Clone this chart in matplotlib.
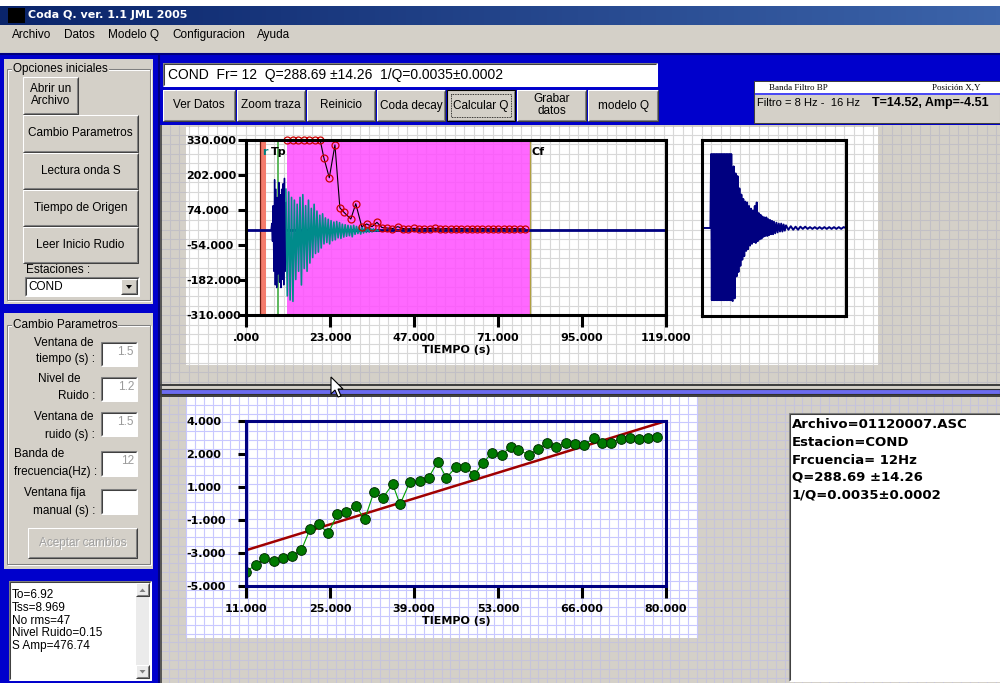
import numpy as np
import matplotlib.pyplot as plt
from matplotlib.patches import Rectangle, Polygon

plt.rcParams['font.family'] = ['Liberation Sans', 'DejaVu Sans']

# ---------------- texts of the window ----------------
window_title = "Coda Q. ver. 1.1 JML 2005"
menu_items = ["Archivo", "Datos", "Modelo Q", "Configuracion", "Ayuda"]
result_line = "COND  Fr= 12  Q=288.69 \u00b114.26  1/Q=0.0035\u00b10.0002"
top_buttons = ["Ver Datos", "Zoom traza", "Reinicio", "Coda decay", "Calcular Q", "Grabar\ndatos", "modelo Q"]
filter_header = ["Banda Filtro BP", "Posici\u00f3n X,Y"]
filter_text = "Filtro = 8 Hz -  16 Hz"
cursor_text = "T=14.52, Amp=-4.51"
side_buttons = ["Abrir un\nArchivo", "Cambio Parametros", "Lectura onda S", "Tiempo de Origen", "Leer Inicio Rudio"]
station = "COND"
param_labels = [("Ventana de", "tiempo (s) :"), ("Nivel de", "Ruido :"), ("Ventana de", "ruido (s) :"),
                ("Banda de", "frecuencia(Hz) :"), ("Ventana fija", "manual (s) :")]
param_values = ["1.5", "1.2", "1.5", "12", ""]
status_lines = ["To=6.92", "Tss=8.969", "No rms=47", "Nivel Ruido=0.15", "S Amp=476.74"]
result_lines = ["Archivo=01120007.ASC", "Estacion=COND", "Frcuencia= 12Hz", "Q=288.69 \u00b114.26", "1/Q=0.0035\u00b10.0002"]

# ---------------- seismogram (upper plot) ----------------
trace_xticks = [0, 23.8, 47.6, 71.4, 95.2, 119]
trace_xlabels = [".000", "23.000", "47.000", "71.000", "95.000", "119.000"]
trace_yticks = [-310, -182, -54, 74, 202, 330]
trace_ylabels = ["-310.000", "-182.000", "-54.000", "74.000", "202.000", "330.000"]

blue_t = [7.1, 7.3, 7.5, 7.7, 7.9, 8.1, 8.3, 8.5, 8.7, 8.9, 9.1, 9.3, 9.5, 9.7, 9.9, 10.1,
          10.3, 10.5, 10.7, 10.9, 11.1, 11.3]
blue_amp = [0, 25, -40, 90, -150, 185, -200, 150, -210, 120, -160, 175, -190, 130, -210, 150,
            -180, 170, -200, 190, -150, 100]

teal_t = [11.3, 11.7, 12.1, 12.5, 12.9, 13.3, 13.7, 14.1, 14.5, 14.9, 15.3, 15.7, 16.1, 16.5,
          16.9, 17.3, 17.7, 18.1, 18.5, 18.9, 19.3, 19.7, 20.1, 20.5, 20.9, 21.3, 21.7, 22.1,
          22.5, 22.9, 23.3, 23.7, 24.1, 24.5, 24.9, 25.3, 25.7, 26.1, 26.5, 26.9, 27.3, 27.7,
          28.1, 28.5, 28.9, 29.3, 29.7, 30.1, 30.5, 30.9, 31.3, 31.7, 32.1, 32.5, 32.9, 33.3,
          33.7, 34.1, 34.5, 34.9, 35.3, 35.7, 36.1, 36.5, 36.9, 37.3, 37.7]
teal_amp = [150, -240, 140, -255, 120, -260, 110, -180, 95, -150, 120, -200, 130, -140,
            90, -150, 110, -120, 80, -100, 95, -85, 70, -80, 55, -65, 60, -50,
            45, -45, 40, -50, 35, -38, 30, -35, 32, -28, 28, -30, 22, -25,
            20, -22, 18, -20, 16, -24, 18, -15, 14, -12, 12, -14, 10, -10,
            9, -8, 10, -7, 6, -6, 5, -4, 3, -3, 0]

coda_t = [11.5, 13.2, 14.8, 16.4, 17.9, 19.5, 21.0, 22.1, 23.6, 25.2, 26.6, 27.8, 29.7, 31.1,
          32.8, 34.2, 35.7, 37.1, 38.5, 40.0, 41.5, 43.0, 44.5, 46.0, 47.5, 49.0, 50.5, 52.0,
          53.5, 55.0, 56.5, 58.0, 59.5, 61.0, 62.5, 64.0, 65.5, 67.0, 68.5, 70.0, 71.5, 73.0,
          74.5, 76.0, 77.5, 79.0]
coda_amp = [330, 330, 330, 330, 330, 330, 330, 263, 192, 312, 82, 65, 41, 97,
            13, 23, 13, 29, 10, 8, 6, 13, 6, 5, 7, 5, 6, 6,
            7, 5, 6, 5, 6, 6, 5, 6, 5, 6, 5, 6, 5, 6,
            5, 6, 5, 6]

t_r, t_r_end = 4.0, 5.7
t_p = 9.1
coda_start, coda_end = 11.5, 80.5

# ---------------- zoomed trace (small window) ----------------
thumb_t = [0, 3.5, 3.8, 4.1, 4.4, 4.7, 5.0, 5.3, 5.6, 5.9, 6.2, 6.5, 6.8, 7.1, 7.4, 7.7, 8.0,
           8.3, 8.6, 8.9, 9.2, 9.5, 9.8, 10.1, 10.4, 10.7, 11.0, 11.3, 11.6, 11.9, 12.2, 12.5,
           12.8, 13.2, 13.6, 14.0, 14.4, 14.8, 15.2, 15.6, 16.0, 16.4, 16.8, 17.2, 17.6, 18.0,
           18.4, 18.8, 19.2, 19.6, 20.0, 20.4, 20.8, 21.2, 21.6, 22.0, 22.4, 22.8, 23.2, 23.6,
           24.0, 24.4, 24.8, 25.2, 25.6, 26.0, 26.4, 26.8, 27.2, 27.6, 28.0, 28.4, 28.8, 29.2,
           29.6, 30.0, 30.5, 31.0, 31.5, 32.0, 32.5, 33.0, 33.5, 34.0, 34.5, 35.0, 36, 37, 38,
           39, 40, 41, 42, 43, 44, 45, 46, 47, 48, 49, 50, 51, 52, 53, 54, 55, 56, 57, 58, 59, 60]
thumb_amp = [0, 0, 0.84, -0.82, 0.84, -0.82, 0.84, -0.82, 0.84, -0.82, 0.84, -0.82, 0.84, -0.82,
             0.84, -0.82, 0.84, -0.82, 0.84, -0.82, 0.84, -0.82, 0.84, -0.82, 0.84, -0.82, 0.84,
             -0.82, 0.84, -0.82, 0.84, -0.82,
             -0.83, 0.70, -0.80, 0.62, -0.55, 0.59, -0.50, 0.45, -0.43, 0.38, -0.36, 0.33, -0.32,
             0.30, -0.26, 0.29, -0.24, 0.25, -0.20, 0.22, -0.18, 0.20, -0.16, 0.25, -0.17, 0.29,
             -0.15, 0.17, -0.13, 0.15, -0.12, 0.13, -0.10, 0.12, -0.09, 0.12, -0.09, 0.10, -0.08,
             0.09, -0.07, 0.08, -0.07, 0.07, -0.06, 0.06, -0.05, 0.05, -0.04, 0.05, -0.04, 0.04,
             -0.03, 0.03, -0.02, 0.02, -0.02, 0.015, -0.02, 0.015, -0.01, 0.015, -0.01, 0.01, -0.01,
             0.01, -0.01, 0.01, -0.01, 0.01, -0.01, 0.01, -0.01, 0.01, -0.01, 0.01, -0.01, 0.01,
             0.0]

# ---------------- coda decay (lower plot) ----------------
decay_xticks = [11, 24.8, 38.6, 52.4, 66.2, 80]
decay_xlabels = ["11.000", "25.000", "39.000", "53.000", "66.000", "80.000"]
decay_yticks = [-5, -3.2, -1.4, 0.4, 2.2, 4.0]
decay_ylabels = ["-5.000", "-3.000", "-1.000", "1.000", "2.000", "4.000"]

decay_t = [11.0, 12.6, 14.0, 15.6, 17.0, 18.5, 20.1, 21.5, 23.0, 24.5, 26.0, 27.5, 29.0, 30.5,
           32.0, 33.5, 35.1, 36.3, 37.9, 39.6, 41.0, 42.5, 43.9, 45.5, 47.0, 48.5, 50.0, 51.4,
           53.0, 54.5, 55.7, 57.5, 58.9, 60.5, 62.0, 63.5, 65.0, 66.5, 68.1, 69.5, 71.0, 72.6,
           74.1, 75.5, 77.0, 78.5]
decay_y = [-4.22, -3.85, -3.49, -3.64, -3.49, -3.35, -3.04, -1.91, -1.64, -2.13, -1.09, -0.95,
           -0.62, -1.36, 0.11, -0.18, 0.56, -0.55, 0.66, 0.73, 0.91, 1.78, 0.91, 1.47, 1.51,
           1.05, 1.73, 2.27, 2.15, 2.60, 2.42, 2.15, 2.47, 2.78, 2.60, 2.78, 2.73, 2.69, 3.05,
           2.78, 2.82, 3.02, 3.09, 3.00, 3.05, 3.11]
fit_t = [11, 80]
fit_y = [-3.05, 4.0]

# ---------------- drawing ----------------
W, H = 1000, 683
FACE = '#d4d0c8'
BLUE = '#0000cc'
NAVY = '#000080'
BOLD = dict(fontfamily='DejaVu Sans', fontweight='bold')

fig = plt.figure(figsize=(10, 6.83), dpi=100)
fig.patch.set_facecolor(FACE)
bg = fig.add_axes([0, 0, 1, 1])
bg.set_axis_off()


def rect(x0, y0, x1, y1, fc, ec='none', lw=0, z=2, **kw):
    bg.add_patch(Rectangle((x0, y0), x1 - x0, y1 - y0, facecolor=fc, edgecolor=ec,
                           linewidth=lw, zorder=z, **kw))


def line(xs, ys, c, lw=0.75, z=4, **kw):
    bg.plot(xs, ys, color=c, lw=lw, zorder=z, solid_capstyle='butt', **kw)


def text(x, y, s, z=6, **kw):
    kw.setdefault('va', 'center')
    kw.setdefault('fontsize', 8.5)
    bg.text(x, y, s, zorder=z, **kw)


def button(x0, y0, x1, y1, label, enabled=True, focus=False, fs=8.5):
    rect(x0, y0, x1, y1, FACE, z=3)
    line([x0, x0, x1], [y1, y0, y0], 'white')
    line([x0, x1, x1], [y1, y1, y0], '#404040')
    line([x0 + 1, x1 - 1, x1 - 1], [y1 - 1, y1 - 1, y0 + 1], '#808080')
    cx, cy = (x0 + x1) / 2, (y0 + y1) / 2
    if enabled:
        text(cx, cy, label, ha='center', fontsize=fs, linespacing=1.0)
    else:
        text(cx + 1, cy + 1, label, ha='center', fontsize=fs, color='white')
        text(cx, cy, label, ha='center', fontsize=fs, color='#a0a0a0', z=7)
    if focus:
        rect(x0, y0, x1, y1, 'none', ec='black', lw=0.8, z=5)
        rect(x0 + 4, y0 + 4, x1 - 4, y1 - 4, 'none', ec='black', lw=0.6, z=5, linestyle=(0, (1, 1)))


def sunken(x0, y0, x1, y1, fc='white'):
    rect(x0, y0, x1, y1, fc, z=3)
    line([x0, x0, x1], [y1, y0, y0], '#808080')
    line([x0 + 1, x0 + 1, x1 - 1], [y1 - 1, y0 + 1, y0 + 1], '#404040')
    line([x0, x1, x1], [y1, y1, y0], 'white')


def group(x0, y0, x1, y1, label):
    rect(x0 + 1, y0 + 1, x1 + 1, y1 + 1, 'none', ec='white', lw=0.75, z=3)
    rect(x0, y0, x1, y1, 'none', ec='#808080', lw=0.75, z=3)
    text(x0 + 6, y0, label, bbox=dict(fc=FACE, ec='none', pad=0.6))


def paper(x0, y0, x1, y1, fc, lc, step, ox, oy):
    rect(x0, y0, x1, y1, fc, z=1)
    xs = np.arange(ox, x1, step)
    ys = np.arange(oy, y1, step)
    bg.vlines(xs[xs > x0], y0, y1, colors=lc, lw=0.75, zorder=1.1)
    bg.hlines(ys[ys > y0], x0, x1, colors=lc, lw=0.75, zorder=1.1)


# title bar and menu
rect(0, 0, W, 6, 'white', z=1)
grad = np.linspace(0, 1, 256)[None, :, None]
c0, c1 = np.array([10, 36, 106]) / 255, np.array([60, 100, 170]) / 255
bg.imshow(c0 + (c1 - c0) * grad, extent=(0, W, 25, 6), aspect='auto', zorder=1)
rect(8, 8, 25, 23, 'black', z=2)
text(28, 15.5, window_title, color='white', fontsize=8, **BOLD)
for lbl, x in zip(menu_items, [12, 64, 108, 172, 257]):
    text(x, 35, lbl)

# blue frames
rect(0, 53, W, 125, BLUE, z=1)
rect(0, 53, 158, H, BLUE, z=1)
line([0, W], [53.5, 53.5], NAVY, lw=1.5)
line([158.5, 158.5], [53, H], NAVY, lw=1.5)

# result text box and buttons
sunken(163, 63, 657, 86)
text(168, 75, result_line, fontsize=10)
for lbl, (x0, x1) in zip(top_buttons, [(163, 235), (237, 305), (307, 375), (377, 445),
                                       (447, 515), (517, 586), (588, 658)]):
    button(x0, 90, x1, 121, lbl, focus=(lbl == "Calcular Q"))

# filter / position box
rect(754, 81, W, 123, FACE, ec='#404040', lw=0.75, z=2)
rect(755, 82, W, 93, 'white', z=3)
line([755, W], [93.5, 93.5], '#3030ff', lw=1.2)
text(769, 87.5, filter_header[0], fontsize=6.5, fontfamily='Liberation Serif')
text(932, 87.5, filter_header[1], fontsize=6.5, fontfamily='Liberation Serif')
text(757, 103, filter_text, fontsize=8)
text(872, 103, cursor_text, fontsize=9, fontweight='bold')

# left panel: initial options
rect(4, 59, 153, 304, FACE, z=2)
group(7, 69, 150, 300, "Opciones iniciales")
button(23, 77, 78, 114, side_buttons[0])
for lbl, (y0, y1) in zip(side_buttons[1:], [(115, 152), (153, 189), (190, 226), (227, 263)]):
    button(23, y0, 138, y1, lbl)
text(26, 270, "Estaciones :")
sunken(25, 277, 139, 296)
text(28, 287, station)
button(121, 279, 137, 294, "")
bg.add_patch(Polygon([(126, 285), (132, 285), (129, 289)], closed=True, fc='black', ec='none', zorder=6))

# left panel: parameters
rect(4, 313, 153, 569, FACE, z=2)
group(7, 325, 150, 564, "Cambio Parametros")
rows = [(343, 359, 342, 366, 94), (379, 396, 377, 401, 80), (417, 435, 412, 436, 94),
        (454, 472, 451, 476, None), (493, 511, 489, 514, 86)]
for (l1, l2), val, (ya, yb, b0, b1, xr) in zip(param_labels, param_values, rows):
    if xr is None:
        text(14, ya, l1)
        text(14, yb, l2)
    else:
        text(xr, ya, l1, ha='right')
        text(95, yb, l2, ha='right')
    sunken(101, b0, 137, b1)
    text(134, (b0 + b1) / 2 - 2, val, ha='right', color='#9a9a9a')
button(28, 528, 137, 558, "Aceptar cambios", enabled=False)

# left panel: status box
sunken(9, 581, 151, 680)
for i, s in enumerate(status_lines):
    text(12, 595 + 12.8 * i, s)
rect(136, 583, 149, 678, '#ebebeb', z=4)
button(136, 583, 149, 596, "")
button(136, 665, 149, 678, "")
bg.add_patch(Polygon([(139.5, 592), (145.5, 592), (142.5, 588.5)], closed=True, fc='#808080', ec='none', zorder=6))
bg.add_patch(Polygon([(139.5, 670), (145.5, 670), (142.5, 673.5)], closed=True, fc='#808080', ec='none', zorder=6))

# chart panels with graph paper
paper(160, 125, W, 385, FACE, '#c2c0c6', 9.5, 160, 125)
paper(186, 127, 878, 365, 'white', '#d8d8d8', 9.5, 160, 125)
paper(160, 396, W, H, FACE, '#c6c4da', 8.8, 160, 396)
paper(186, 397, 697, 638, 'white', '#c8c8ff', 8.8, 160, 396)
line([161, 161], [125, H], '#404040', lw=1.2)
rect(160, 384, W, 385.5, '#404040', z=3)
rect(160, 388.5, W, 394, '#6b6bef', ec='#303030', lw=0.8, z=3)
rect(160, 395, W, 396.5, '#404040', z=3)

# result box of the lower panel
sunken(789, 413, W + 2, 681)
for i, s in enumerate(result_lines):
    text(792, 425 + 17.5 * i, s, fontsize=9.5, **BOLD)

# mouse pointer
tip = np.array([331, 377])
arrow = np.array([(0, 0), (0, 17), (4, 13), (7, 20), (10, 19), (7, 12), (12, 12)]) + tip
bg.add_patch(Polygon(arrow, closed=True, fc='white', ec='black', lw=0.8, zorder=20))

bg.set_xlim(0, W)
bg.set_ylim(H, 0)


def px_axes(x0, y0, x1, y1):
    return fig.add_axes([x0 / W, 1 - y1 / H, (x1 - x0) / W, (y1 - y0) / H])


def style(ax, color, xt, xl, yt, yl):
    ax.patch.set_visible(False)
    for s in ax.spines.values():
        s.set_color(color)
        s.set_linewidth(2.2)
        s.set_zorder(5)
    ax.set_xticks(xt)
    ax.set_xticklabels(xl, fontsize=8, **BOLD)
    ax.set_yticks(yt)
    ax.set_yticklabels(yl, fontsize=8, **BOLD)
    ax.tick_params(axis='x', direction='out', length=8.6, width=2.2, pad=4.5)
    ax.tick_params(axis='y', direction='out', length=5.5, width=2.2, pad=37.5)
    for lbl in ax.get_yticklabels():
        lbl.set_horizontalalignment('left')
    ax.set_xlabel("TIEMPO (s)", fontsize=8, labelpad=1, **BOLD)


# upper plot: trace with picks and coda window
ax1 = px_axes(246, 140, 666, 315)
ax1.axvspan(t_r, t_r_end, color='#f47c6c', lw=0, zorder=1)
ax1.axvline(t_r, color='#6b1a10', lw=0.9, zorder=1.5)
ax1.axvline(t_p, color='#5cb85c', lw=1.4, zorder=1.5)
ax1.axvspan(coda_start, coda_end, color='#ff4dff', alpha=0.85, lw=0, zorder=1)
ax1.axvline(coda_end, color='#b0a040', lw=1, zorder=1.5)
ax1.plot([0, 119], [0, 0], color=NAVY, lw=2, zorder=2)
ax1.plot(blue_t, blue_amp, color=NAVY, lw=1.0, zorder=3)
ax1.plot(teal_t, teal_amp, color='#008b8b', lw=1.2, zorder=3)
ax1.plot(coda_t, coda_amp, color='black', lw=0.8, marker='o', ms=5, mfc='none',
         mec='#cc0000', mew=0.9, zorder=4, clip_on=False)
ax1.text(t_r + 0.5, 0.96, "r", color='#008080', fontsize=8, va='top',
         transform=ax1.get_xaxis_transform(), **BOLD)
ax1.text(t_p - 2.0, 0.96, "Tp", color='black', fontsize=8, va='top',
         transform=ax1.get_xaxis_transform(), **BOLD)
ax1.text(coda_end + 0.3, 0.96, "Cf", color='black', fontsize=8, va='top',
         transform=ax1.get_xaxis_transform(), **BOLD)
ax1.set_xlim(0, 119)
ax1.set_ylim(-310, 330)
style(ax1, 'black', trace_xticks, trace_xlabels, trace_yticks, trace_ylabels)

# zoomed trace
ax2 = px_axes(702, 140, 846, 316)
ax2.plot(thumb_t, thumb_amp, color=NAVY, lw=1.4)
ax2.set_xlim(0, 60)
ax2.set_ylim(-1, 1)
ax2.patch.set_visible(False)
ax2.set_xticks([])
ax2.set_yticks([])
for s in ax2.spines.values():
    s.set_linewidth(2.2)

# lower plot: coda decay and linear fit
ax3 = px_axes(246, 421, 666, 586)
ax3.plot(fit_t, fit_y, color='#a00000', lw=1.8, zorder=2)
ax3.plot(decay_t, decay_y, color='#00a000', lw=0.8, marker='o', ms=7,
         mfc='#007a00', mec='#003000', mew=0.7, zorder=3)
ax3.set_xlim(11, 80)
ax3.set_ylim(-5, 4)
style(ax3, NAVY, decay_xticks, decay_xlabels, decay_yticks, decay_ylabels)

plt.savefig("out.png", dpi=100)
